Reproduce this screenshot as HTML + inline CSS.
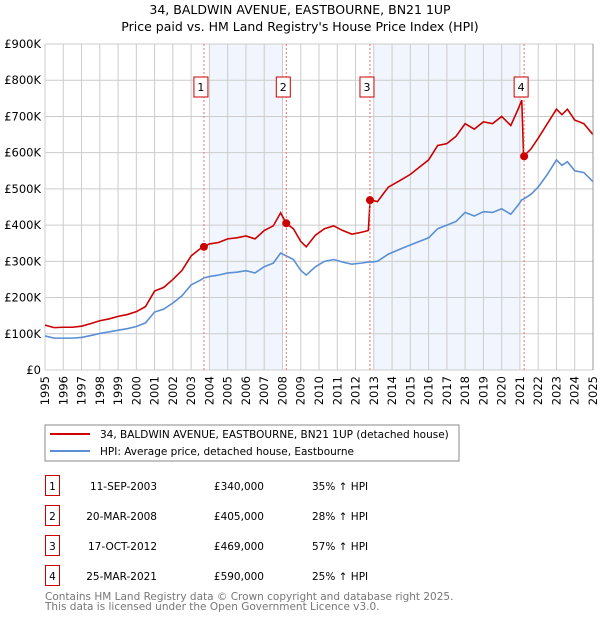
<!DOCTYPE html>
<html><head><meta charset="utf-8"><style>
body{margin:0;background:#fff;font-family:"DejaVu Sans","Liberation Sans",sans-serif;}
svg text{font-family:"DejaVu Sans","Liberation Sans",sans-serif;}
</style></head><body>
<svg id="chart" width="600" height="620" xmlns="http://www.w3.org/2000/svg">
<text x="300" y="14" text-anchor="middle" font-size="12.5">34, BALDWIN AVENUE, EASTBOURNE, BN21 1UP</text>
<text x="300" y="31" text-anchor="middle" font-size="12.5">Price paid vs. HM Land Registry's House Price Index (HPI)</text>
<g id="shade"></g><g id="grid"></g><g id="lines"></g><g id="marks"></g><g id="axes"></g>
<rect x="45" y="425" width="414" height="36" fill="#fff" stroke="#888"/>
<line x1="50" y1="434" x2="90" y2="434" stroke="#cc0000" stroke-width="2"/>
<text x="100" y="438" font-size="10.5">34, BALDWIN AVENUE, EASTBOURNE, BN21 1UP (detached house)</text>
<line x1="50" y1="451" x2="90" y2="451" stroke="#5b8fd4" stroke-width="2"/>
<text x="100" y="455" font-size="10.5">HPI: Average price, detached house, Eastbourne</text>
<g id="table" font-size="10.5"></g>
<text x="45" y="600" font-size="10.5" fill="#777">Contains HM Land Registry data © Crown copyright and database right 2025.</text>
<text x="45" y="610" font-size="10.5" fill="#777">This data is licensed under the Open Government Licence v3.0.</text>
</svg>
<script>
const dates=[1995.0,1995.5,1996.0,1996.5,1997.0,1997.5,1998.0,1998.5,1999.0,1999.5,2000.0,2000.5,2001.0,2001.5,2002.0,2002.5,2003.0,2003.5,2003.7,2004.0,2004.5,2005.0,2005.5,2006.0,2006.5,2007.0,2007.5,2007.9,2008.2,2008.6,2009.0,2009.3,2009.8,2010.3,2010.8,2011.3,2011.8,2012.3,2012.7,2012.8,2013.2,2013.8,2014.5,2015.0,2015.5,2016.0,2016.5,2017.0,2017.5,2018.0,2018.5,2019.0,2019.5,2020.0,2020.5,2020.9,2021.1,2021.2,2021.6,2022.0,2022.5,2023.0,2023.3,2023.6,2024.0,2024.5,2025.0];
const hpiValues=[94,88,88,88,90,95,101,105,110,114,120,130,160,168,185,205,235,248,254,258,262,268,270,274,268,285,295,323,315,305,275,262,285,300,305,298,292,295,298,298,300,320,335,345,355,365,390,400,410,435,425,437,435,445,430,455,470,472,485,505,540,580,565,575,550,545,520];
const priceValues=[124,117,118,118,121,128,136,141,148,153,161,175,218,228,250,275,315,335,340,348,352,362,365,370,362,385,398,434,405,390,355,340,372,390,398,385,375,380,385,469,465,505,525,540,560,580,620,625,645,680,665,685,680,700,675,720,745,590,610,640,680,720,705,720,690,680,650];
const saleDates=[2003.70,2008.21,2012.79,2021.23];
const salePrices=[340,405,469,590];
const saleLabels=["1","2","3","4"];
const saleDateText=["11-SEP-2003","20-MAR-2008","17-OCT-2012","25-MAR-2021"];
const salePriceText=["£340,000","£405,000","£469,000","£590,000"];
const salePctText=["35% ↑ HPI","28% ↑ HPI","57% ↑ HPI","25% ↑ HPI"];
const shadeStarts=[2004,2013];
const shadeEnds=[2008,2021];
const yTicks=[0,100,200,300,400,500,600,700,800,900];
const yTickLabels=["£0","£100K","£200K","£300K","£400K","£500K","£600K","£700K","£800K","£900K"];
const xTicks=[1995,1996,1997,1998,1999,2000,2001,2002,2003,2004,2005,2006,2007,2008,2009,2010,2011,2012,2013,2014,2015,2016,2017,2018,2019,2020,2021,2022,2023,2024,2025];

const NS="http://www.w3.org/2000/svg";
const X0=45,X1=593,Y0=370,Y1=44;
function xs(d){return X0+(d-1995)/30*(X1-X0);}
function ys(v){return Y0-v/900*(Y0-Y1);}
function mk(tag,attrs,parent,txt){const e=document.createElementNS(NS,tag);for(const k in attrs)e.setAttribute(k,attrs[k]);if(txt!==undefined)e.textContent=txt;parent.appendChild(e);return e;}
const g=id=>document.getElementById(id);

shadeStarts.forEach((s,i)=>{
 const r=mk('rect',{x:xs(s),y:Y1,width:xs(shadeEnds[i])-xs(s),height:Y0-Y1,fill:'#eef3fc',opacity:0.8},g('shade'));
 
 
});
yTicks.forEach((t,i)=>{
 const l=mk('line',{x1:X0,x2:X1,y1:ys(t),y2:ys(t),stroke:'#ccc','stroke-width':1},g('grid'));
 
 
 const tx=mk('text',{x:X0-4,y:ys(t)+4,'text-anchor':'end','font-size':11.5},g('axes'),yTickLabels[i]);
 
 
});
xTicks.forEach(t=>{
 const l=mk('line',{x1:xs(t),x2:xs(t),y1:Y1,y2:Y0,stroke:'#ccc','stroke-width':1},g('grid'));
 
 
 const tx=mk('text',{x:0,y:0,'text-anchor':'end','font-size':11.5,transform:`translate(${xs(t)+4},376) rotate(-90)`},g('axes'),String(t));
 
 
});
const hp=mk('polyline',{points:dates.map((d,i)=>xs(d)+','+ys(hpiValues[i])).join(' '),fill:'none',stroke:'#5b8fd4','stroke-width':1.6},g('lines'));


const pp=mk('polyline',{points:dates.map((d,i)=>xs(d)+','+ys(priceValues[i])).join(' '),fill:'none',stroke:'#cc0000','stroke-width':1.6},g('lines'));


saleDates.forEach((d,i)=>{
 const x=xs(d);
 const l=mk('line',{x1:x,x2:x,y1:Y1,y2:Y0,stroke:'#f07070','stroke-dasharray':'2,2','stroke-width':1},g('marks'));
 
 
 const c=mk('circle',{cx:x,cy:ys(salePrices[i]),r:4,fill:'#cc0000'},g('marks'));
 
 
 const b=mk('rect',{x:x-10,y:77,width:14,height:20,fill:'#fff',stroke:'#cc0000'},g('marks'));
 
 
 const t=mk('text',{x:x-3,y:91,'text-anchor':'middle','font-size':11},g('marks'),saleLabels[i]);
 
 
 const ty=483+i*30;
 const tb=mk('rect',{x:45.5,y:ty-7.5,width:14,height:20,fill:'#fff',stroke:'#cc0000'},g('table'));
 
 
 const tn=mk('text',{x:52.5,y:ty+7,'text-anchor':'middle'},g('table'),saleLabels[i]);
 
 
 const td=mk('text',{x:157,y:ty+7,'text-anchor':'end'},g('table'),saleDateText[i]);
 
 
 const tp=mk('text',{x:264,y:ty+7,'text-anchor':'end'},g('table'),salePriceText[i]);
 
 
 const tq=mk('text',{x:312,y:ty+7},g('table'),salePctText[i]);
 
 
});
const ax=mk('line',{x1:X1,x2:X1,y1:Y1,y2:Y0,stroke:'#999'},g('axes'));


</script>
</body></html>
